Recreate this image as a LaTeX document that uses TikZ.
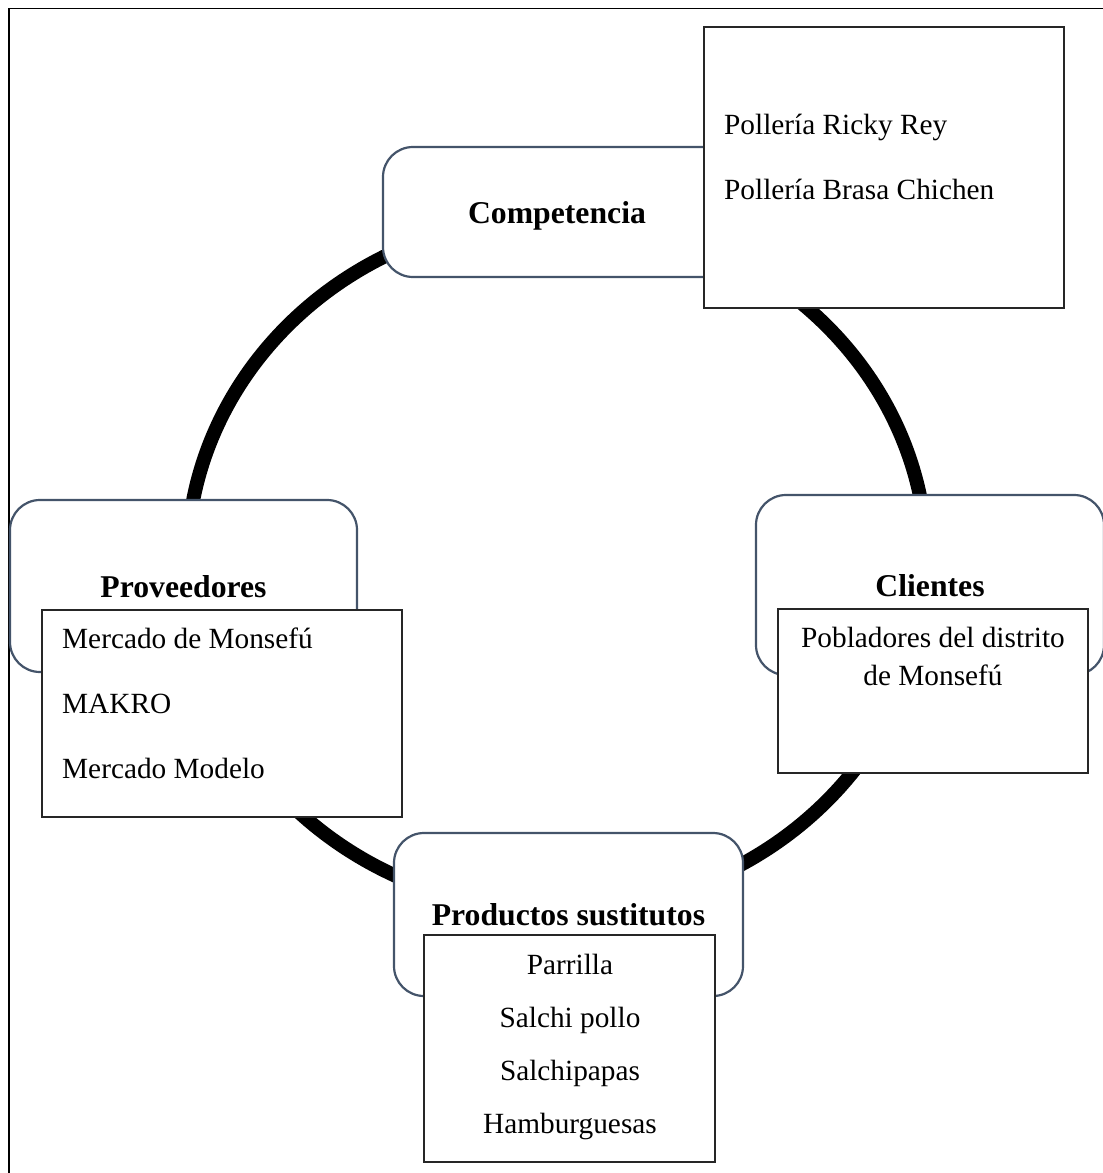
\documentclass[tikz,border=0pt]{standalone}
\usepackage{fontspec}
\setmainfont{Liberation Serif}
\definecolor{forceedge}{HTML}{44546A}
\newcommand\HeadFont{\fontsize{31.7}{38}\selectfont\bfseries}
\newcommand\BodyFont{\fontsize{29.3}{35}\selectfont}
\begin{document}
\begin{tikzpicture}[x=1pt,y=-1pt,
  forcebox/.style={draw=forceedge, line width=2.2pt, rounded corners=30pt,
    fill=white, inner sep=0pt, font=\HeadFont, text height=22pt, text depth=0pt},
  listbox/.style={draw=black!85, line width=1.4pt, fill=white, inner sep=0pt},
  itemleft/.style={font=\BodyFont, inner sep=0pt, anchor=base west},
  itemmid/.style={font=\BodyFont, inner sep=0pt, anchor=base},
  ring/.style={line width=14pt, draw=black}]
\useasboundingbox (0,0) rectangle (1103,1173);

% outer frame (runs past the page on the right and bottom)
\draw[line width=1.6pt] (9,8.5) rectangle (1120,1190);

% cycle ring behind the boxes
\draw[ring] (557,563.5) ellipse [x radius=370pt, y radius=347pt];

% the four forces
\node[forcebox, minimum width=348pt, minimum height=130pt] (comp) at (557,212) {Competencia};
\node[forcebox, minimum width=347pt, minimum height=172pt] (prov) at (183.5,586) {Proveedores};
\node[forcebox, minimum width=348pt, minimum height=180pt] (cli)  at (930,585) {Clientes};
\node[forcebox, minimum width=349pt, minimum height=163pt] (prod) at (568.5,914.5) {Productos sustitutos};

% detail boxes
\node[listbox, minimum width=360pt, minimum height=281pt] (complist) at (884,167.5) {};
\node[listbox, minimum width=360pt, minimum height=207pt] (provlist) at (222,713.5) {};
\node[listbox, minimum width=310pt, minimum height=164pt] (clilist)  at (933,691) {};
\node[listbox, minimum width=291pt, minimum height=227pt] (prodlist) at (569.5,1048.5) {};

% competitors
\node[itemleft] (c1) at (724,134) {Pollería Ricky Rey};
\node[itemleft] (c2) at (724,199) {Pollería Brasa Chichen};

% suppliers
\node[itemleft] (p1) at (62,648) {Mercado de Monsefú};
\node[itemleft] (p2) at (62,713) {MAKRO};
\node[itemleft] (p3) at (62,778) {Mercado Modelo};

% customers
\node[itemmid] (k1) at (933,647) {Pobladores del distrito};
\node[itemmid] (k2) at (933,685) {de Monsefú};

% substitutes
\node[itemmid] (s1) at (570,974) {Parrilla};
\node[itemmid] (s2) at (570,1027) {Salchi pollo};
\node[itemmid] (s3) at (570,1080) {Salchipapas};
\node[itemmid] (s4) at (570,1133) {Hamburguesas};
\end{tikzpicture}
\end{document}
